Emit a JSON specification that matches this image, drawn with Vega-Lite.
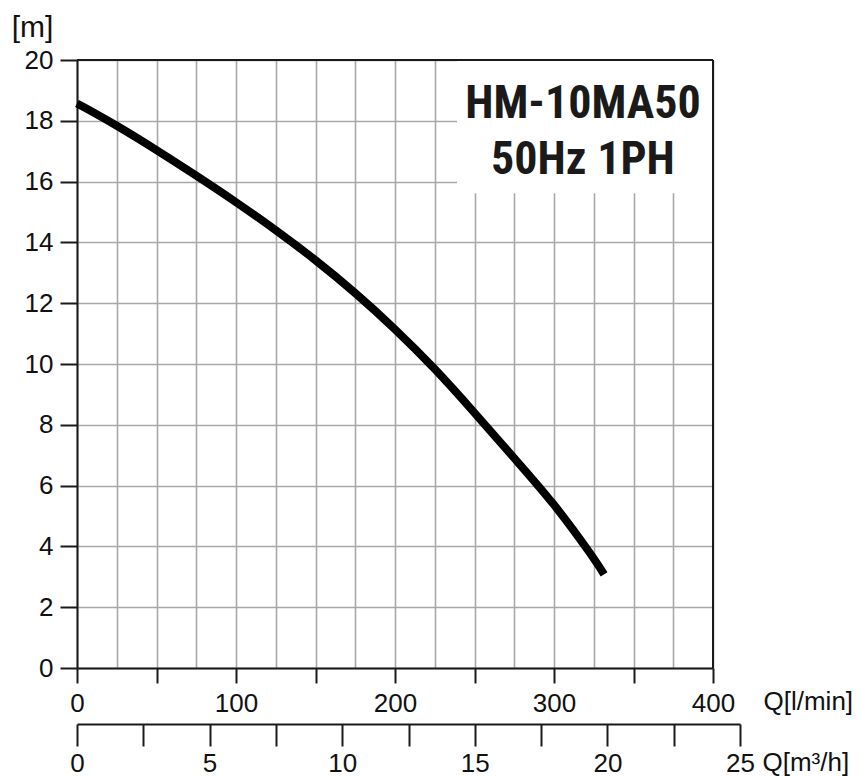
{
  "$schema": "https://vega.github.io/schema/vega-lite/v6.json",
  "width": 636,
  "height": 608,
  "autosize": {"type": "none"},
  "padding": {"left": 77, "top": 60, "right": 146, "bottom": 108},
  "background": "white",
  "config": {"view": {"stroke": null}, "font": "Liberation Sans"},
  "layer": [
    {
      "layer": [
        {
          "data": {"values": [
            {"q_lpm": 0, "head_m": 18.57},
            {"q_lpm": 25, "head_m": 17.85},
            {"q_lpm": 50, "head_m": 17.04},
            {"q_lpm": 75, "head_m": 16.2},
            {"q_lpm": 100, "head_m": 15.33},
            {"q_lpm": 125, "head_m": 14.41},
            {"q_lpm": 150, "head_m": 13.43},
            {"q_lpm": 175, "head_m": 12.35},
            {"q_lpm": 200, "head_m": 11.16},
            {"q_lpm": 225, "head_m": 9.86},
            {"q_lpm": 250, "head_m": 8.4},
            {"q_lpm": 275, "head_m": 6.9},
            {"q_lpm": 300, "head_m": 5.42},
            {"q_lpm": 325, "head_m": 3.62},
            {"q_lpm": 331.5, "head_m": 3.08}
          ]},
          "mark": {"type": "line", "color": "#000000", "strokeWidth": 8, "strokeCap": "butt", "interpolate": "basis", "clip": false},
          "encoding": {
            "x": {
              "field": "q_lpm", "type": "quantitative",
              "scale": {"domain": [0, 400], "nice": false, "zero": false},
              "axis": {
                "values": [0, 25, 50, 75, 100, 125, 150, 175, 200, 225, 250, 275, 300, 325, 350, 375, 400],
                "grid": true, "gridColor": "#a8a8a8", "gridWidth": 1.6,
                "domainColor": "#1a1a1a", "domainWidth": 2,
                "tickWidth": 2, "tickSize": 15,
                "tickColor": {"condition": {"test": "datum.value % 50 === 0", "value": "#1a1a1a"}, "value": "transparent"},
                "labelExpr": "datum.value % 100 === 0 ? datum.label : ''",
                "labelFontSize": 26, "labelColor": "#111111", "labelPadding": 7,
                "labelFlush": false, "labelOverlap": false,
                "title": "Q[l/min]", "titleX": 686, "titleY": 41, "titleAlign": "left", "titleAnchor": "start",
                "titleBaseline": "alphabetic", "titleFontSize": 26, "titleFontWeight": "normal", "titleColor": "#111111"
              }
            },
            "y": {
              "field": "head_m", "type": "quantitative",
              "scale": {"domain": [0, 20], "nice": false},
              "axis": {
                "values": [0, 2, 4, 6, 8, 10, 12, 14, 16, 18, 20],
                "grid": true, "gridColor": "#a8a8a8", "gridWidth": 1.6,
                "domainColor": "#1a1a1a", "domainWidth": 2,
                "tickColor": "#1a1a1a", "tickWidth": 2, "tickSize": 17,
                "labelFontSize": 26, "labelColor": "#111111", "labelPadding": 7,
                "labelFlush": false, "labelOverlap": false,
                "title": "[m]", "titleAngle": 0, "titleX": -45, "titleY": -24, "titleAlign": "center", "titleAnchor": "start",
                "titleBaseline": "alphabetic", "titleFontSize": 30, "titleFontWeight": "normal", "titleColor": "#111111"
              }
            }
          }
        },
        {
          "data": {"values": [{}]},
          "mark": {"type": "rect", "fill": "white"},
          "encoding": {
            "x": {
              "datum": 239,
              "axis": {
                "values": [0, 25, 50, 75, 100, 125, 150, 175, 200, 225, 250, 275, 300, 325, 350, 375, 400],
                "grid": true, "gridColor": "#a8a8a8", "gridWidth": 1.6,
                "domainColor": "#1a1a1a", "domainWidth": 2,
                "tickWidth": 2, "tickSize": 15,
                "tickColor": {"condition": {"test": "datum.value % 50 === 0", "value": "#1a1a1a"}, "value": "transparent"},
                "labelExpr": "datum.value % 100 === 0 ? datum.label : ''",
                "labelFontSize": 26, "labelColor": "#111111", "labelPadding": 7,
                "labelFlush": false, "labelOverlap": false,
                "title": "Q[l/min]", "titleX": 686, "titleY": 41, "titleAlign": "left", "titleAnchor": "start",
                "titleBaseline": "alphabetic", "titleFontSize": 26, "titleFontWeight": "normal", "titleColor": "#111111"
              }
            },
            "x2": {"datum": 400},
            "y": {
              "datum": 15.62,
              "axis": {
                "values": [0, 2, 4, 6, 8, 10, 12, 14, 16, 18, 20],
                "grid": true, "gridColor": "#a8a8a8", "gridWidth": 1.6,
                "domainColor": "#1a1a1a", "domainWidth": 2,
                "tickColor": "#1a1a1a", "tickWidth": 2, "tickSize": 17,
                "labelFontSize": 26, "labelColor": "#111111", "labelPadding": 7,
                "labelFlush": false, "labelOverlap": false,
                "title": "[m]", "titleAngle": 0, "titleX": -45, "titleY": -24, "titleAlign": "center", "titleAnchor": "start",
                "titleBaseline": "alphabetic", "titleFontSize": 30, "titleFontWeight": "normal", "titleColor": "#111111"
              }
            },
            "y2": {"datum": 20}
          }
        },
        {
          "data": {"values": [{}]},
          "mark": {"type": "rule", "color": "#1a1a1a", "strokeWidth": 2},
          "encoding": {
            "y": {
              "datum": 20,
              "axis": {
                "values": [0, 2, 4, 6, 8, 10, 12, 14, 16, 18, 20],
                "grid": true, "gridColor": "#a8a8a8", "gridWidth": 1.6,
                "domainColor": "#1a1a1a", "domainWidth": 2,
                "tickColor": "#1a1a1a", "tickWidth": 2, "tickSize": 17,
                "labelFontSize": 26, "labelColor": "#111111", "labelPadding": 7,
                "labelFlush": false, "labelOverlap": false,
                "title": "[m]", "titleAngle": 0, "titleX": -45, "titleY": -24, "titleAlign": "center", "titleAnchor": "start",
                "titleBaseline": "alphabetic", "titleFontSize": 30, "titleFontWeight": "normal", "titleColor": "#111111"
              }
            }
          }
        },
        {
          "data": {"values": [{}]},
          "mark": {"type": "rule", "color": "#1a1a1a", "strokeWidth": 2},
          "encoding": {
            "x": {
              "datum": 400,
              "axis": {
                "values": [0, 25, 50, 75, 100, 125, 150, 175, 200, 225, 250, 275, 300, 325, 350, 375, 400],
                "grid": true, "gridColor": "#a8a8a8", "gridWidth": 1.6,
                "domainColor": "#1a1a1a", "domainWidth": 2,
                "tickWidth": 2, "tickSize": 15,
                "tickColor": {"condition": {"test": "datum.value % 50 === 0", "value": "#1a1a1a"}, "value": "transparent"},
                "labelExpr": "datum.value % 100 === 0 ? datum.label : ''",
                "labelFontSize": 26, "labelColor": "#111111", "labelPadding": 7,
                "labelFlush": false, "labelOverlap": false,
                "title": "Q[l/min]", "titleX": 686, "titleY": 41, "titleAlign": "left", "titleAnchor": "start",
                "titleBaseline": "alphabetic", "titleFontSize": 26, "titleFontWeight": "normal", "titleColor": "#111111"
              }
            }
          }
        },
        {
          "data": {"values": [{"line": "HM-10MA50", "row": 18.09}, {"line": "50Hz 1PH", "row": 16.25}]},
          "mark": {"type": "text", "font": "Roboto Condensed", "fontWeight": "bold", "fontSize": 46, "align": "center", "baseline": "alphabetic", "color": "#1a1a1a"},
          "encoding": {
            "text": {"field": "line"},
            "x": {
              "datum": 318.2,
              "axis": {
                "values": [0, 25, 50, 75, 100, 125, 150, 175, 200, 225, 250, 275, 300, 325, 350, 375, 400],
                "grid": true, "gridColor": "#a8a8a8", "gridWidth": 1.6,
                "domainColor": "#1a1a1a", "domainWidth": 2,
                "tickWidth": 2, "tickSize": 15,
                "tickColor": {"condition": {"test": "datum.value % 50 === 0", "value": "#1a1a1a"}, "value": "transparent"},
                "labelExpr": "datum.value % 100 === 0 ? datum.label : ''",
                "labelFontSize": 26, "labelColor": "#111111", "labelPadding": 7,
                "labelFlush": false, "labelOverlap": false,
                "title": "Q[l/min]", "titleX": 686, "titleY": 41, "titleAlign": "left", "titleAnchor": "start",
                "titleBaseline": "alphabetic", "titleFontSize": 26, "titleFontWeight": "normal", "titleColor": "#111111"
              }
            },
            "y": {
              "field": "row", "type": "quantitative",
              "axis": {
                "values": [0, 2, 4, 6, 8, 10, 12, 14, 16, 18, 20],
                "grid": true, "gridColor": "#a8a8a8", "gridWidth": 1.6,
                "domainColor": "#1a1a1a", "domainWidth": 2,
                "tickColor": "#1a1a1a", "tickWidth": 2, "tickSize": 17,
                "labelFontSize": 26, "labelColor": "#111111", "labelPadding": 7,
                "labelFlush": false, "labelOverlap": false,
                "title": "[m]", "titleAngle": 0, "titleX": -45, "titleY": -24, "titleAlign": "center", "titleAnchor": "start",
                "titleBaseline": "alphabetic", "titleFontSize": 30, "titleFontWeight": "normal", "titleColor": "#111111"
              }
            }
          }
        }
      ]
    },
    {
      "data": {"values": [{"q_m3h": 0}, {"q_m3h": 25}]},
      "mark": {"type": "point", "opacity": 0},
      "encoding": {
        "x": {
          "field": "q_m3h", "type": "quantitative",
          "scale": {"domain": [0, 25], "range": [0, 663], "nice": false, "zero": false},
          "axis": {
            "orient": "bottom", "offset": 56,
            "values": [0, 2.5, 5, 7.5, 10, 12.5, 15, 17.5, 20, 22.5, 25],
            "grid": false,
            "domainColor": "#1a1a1a", "domainWidth": 2,
            "tickColor": "#1a1a1a", "tickWidth": 2, "tickSize": 22,
            "labelExpr": "datum.value % 5 === 0 ? datum.label : ''",
            "labelFontSize": 26, "labelColor": "#111111", "labelPadding": 4,
            "labelFlush": false, "labelOverlap": false,
            "title": "Q[m³/h]", "titleX": 685, "titleY": 46, "titleAlign": "left", "titleAnchor": "start",
            "titleBaseline": "alphabetic", "titleFontSize": 26, "titleFontWeight": "normal", "titleColor": "#111111"
          }
        }
      }
    }
  ],
  "resolve": {"scale": {"x": "independent"}}
}
